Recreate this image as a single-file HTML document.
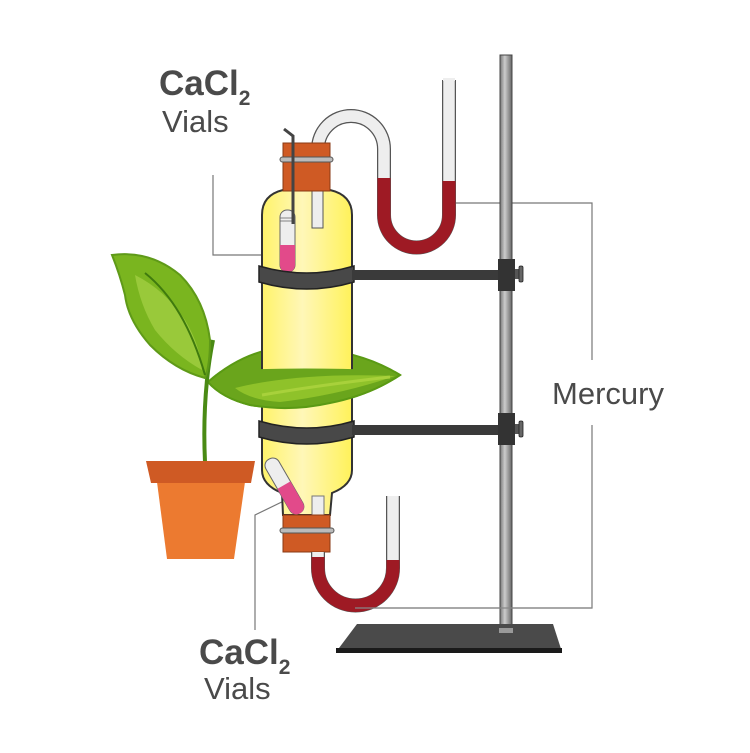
<!DOCTYPE html>
<html><head><meta charset="utf-8"><style>
html,body{margin:0;padding:0;background:#fff;}
svg{display:block;}
text{font-family:"Liberation Sans",Arial,sans-serif;fill:#4a4a4a;}
</style></head><body>
<svg width="750" height="753" viewBox="0 0 750 753" xmlns="http://www.w3.org/2000/svg">
<defs>
<linearGradient id="bot" x1="0" x2="1" y1="0" y2="0">
<stop offset="0" stop-color="#fff36a"/><stop offset="0.45" stop-color="#fff7b8"/><stop offset="1" stop-color="#fff25a"/>
</linearGradient>
<linearGradient id="rod" x1="0" x2="1"><stop offset="0" stop-color="#777"/><stop offset="0.4" stop-color="#ccc"/><stop offset="1" stop-color="#666"/></linearGradient>
<clipPath id="lowhalf"><path d="M200,372 Q300,365 420,372 L420,430 L200,430Z"/></clipPath>
</defs>

<g stroke="#777" stroke-width="1.2" fill="none">
<path d="M213,175 V255 H283"/>
<path d="M455,203 H592 V360"/>
<path d="M592,425 V608 H355"/>
<path d="M292,497 L255,515 V630"/>
</g>

<rect x="500" y="55" width="12" height="580" fill="url(#rod)" stroke="#444" stroke-width="1"/>
<path d="M357,624 L553,624 L562,652 L336,652Z" fill="#4a4a4a"/>
<rect x="336" y="648" width="226" height="5" fill="#1a1a1a"/>
<rect x="499" y="628" width="14" height="5" fill="#999"/>

<g fill="none" stroke-linecap="butt">
<path d="M318,165 V149 A33,33 0 0 1 384,149 V215 A32.5,32.5 0 0 0 449,215 V80" stroke="#555" stroke-width="14"/>
<path d="M318,165 V149 A33,33 0 0 1 384,149 V215 A32.5,32.5 0 0 0 449,215 V80" stroke="#eeeeee" stroke-width="11.5"/>
<path d="M384,178 V215 A32.5,32.5 0 0 0 449,215 V181" stroke="#9e1a24" stroke-width="13"/>
</g>
<rect x="443" y="78" width="12" height="3" fill="#eee"/>

<g>
<path d="M208,382 Q250,345 300,347 Q360,350 400,375 Q370,395 330,403 Q290,412 250,405 Q222,398 208,382Z" fill="#6aa51c" stroke="#5a9a14" stroke-width="2"/>
<path d="M230,385 Q300,368 395,376 Q340,395 280,400 Q245,398 230,385Z" fill="#8fc22a"/>
<path d="M220,384 Q300,368 395,375" stroke="#3f7a0e" stroke-width="2" fill="none"/>
</g>

<path d="M283,190 L330,190 Q352,195 352,215 V470 Q352,485 332,493 L330,515 H283 L282,493 Q262,485 262,470 V215 Q262,195 283,190Z" fill="url(#bot)" stroke="#333" stroke-width="2"/>
<rect x="312" y="190" width="11" height="38" fill="#eee" stroke="#555" stroke-width="1"/>
<rect x="312" y="496" width="12" height="20" fill="#eee" stroke="#777" stroke-width="1"/>

<g clip-path="url(#lowhalf)">
<path d="M208,382 Q250,345 300,347 Q360,350 400,375 Q370,395 330,403 Q290,412 250,405 Q222,398 208,382Z" fill="#6aa51c" stroke="#5a9a14" stroke-width="2"/>
<path d="M235,388 Q300,372 395,376 Q340,395 280,402 Q250,400 235,388Z" fill="#8fc22a"/>
<path d="M262,395 Q320,385 390,377" stroke="#a8d13b" stroke-width="3" fill="none"/>
</g>

<rect x="280" y="210" width="15" height="62" rx="7" fill="#eee" stroke="#666" stroke-width="1"/>
<path d="M280,245 H295 V265 A7.5,7.5 0 0 1 280,265Z" fill="#e24a8a"/>
<rect x="280" y="218" width="15" height="3" fill="none" stroke="#666" stroke-width="0.8"/>
<path d="M284,129 L293,136 V224" stroke="#444" stroke-width="3" fill="none"/>

<rect x="283" y="143" width="47" height="48" fill="#cf5a24" stroke="#8a3a14" stroke-width="1"/>
<rect x="280" y="157" width="53" height="5" rx="2.5" fill="#bbb" stroke="#555" stroke-width="1"/>
<path d="M293,136 V224" stroke="#444" stroke-width="3"/>

<g transform="rotate(-30 285 488)">
<rect x="278" y="455" width="15" height="62" rx="7" fill="#eee" stroke="#666" stroke-width="1"/>
<path d="M278,485 H293 V510 A7.5,7.5 0 0 1 278,510Z" fill="#e24a8a"/>
</g>

<rect x="283" y="515" width="47" height="37" fill="#cf5a24" stroke="#8a3a14" stroke-width="1"/>
<rect x="280" y="528" width="54" height="5" rx="2.5" fill="#bbb" stroke="#555" stroke-width="1"/>

<g fill="none">
<path d="M318,552 V568 A37.5,37.5 0 0 0 393,568 V496" stroke="#555" stroke-width="14"/>
<path d="M318,552 V568 A37.5,37.5 0 0 0 393,568 V496" stroke="#eee" stroke-width="11.5"/>
<path d="M318,557 V568 A37.5,37.5 0 0 0 393,568 V560" stroke="#9e1a24" stroke-width="13"/>
</g>
<path d="M355,608 H592" stroke="#888" stroke-width="1.2"/>

<g>
<path d="M259,266 Q307,280 354,266 V282 Q307,296 259,282Z" fill="#484848" stroke="#222" stroke-width="1.5"/>
<rect x="352" y="270" width="150" height="10" fill="#3a3a3a"/>
<rect x="498" y="259" width="17" height="32" fill="#333"/>
<rect x="515" y="269" width="4" height="10" fill="#555"/>
<rect x="519" y="266" width="4" height="16" rx="1.5" fill="#666" stroke="#222" stroke-width="0.8"/>

<path d="M259,421 Q307,435 354,421 V437 Q307,451 259,437Z" fill="#484848" stroke="#222" stroke-width="1.5"/>
<rect x="352" y="425" width="150" height="10" fill="#3a3a3a"/>
<rect x="498" y="413" width="17" height="32" fill="#333"/>
<rect x="515" y="424" width="4" height="10" fill="#555"/>
<rect x="519" y="421" width="4" height="16" rx="1.5" fill="#666" stroke="#222" stroke-width="0.8"/>
</g>

<path d="M205,462 Q203,420 207,380 Q209,360 213,340" stroke="#4a8a14" stroke-width="4" fill="none"/>
<path d="M112,255 Q150,250 180,275 Q205,300 210,340 Q210,365 205,378 Q175,370 150,345 Q128,320 125,295 Q120,275 112,255Z" fill="#7ab51f" stroke="#5f9a18" stroke-width="2"/>
<path d="M135,275 Q165,290 185,320 Q200,345 202,370 Q175,355 155,330 Q140,305 135,275Z" fill="#99c93a"/>
<path d="M145,273 Q185,305 205,375" stroke="#3f7a0e" stroke-width="2" fill="none"/>

<path d="M157,482 L245,482 L234,559 L167,559Z" fill="#ec7a30"/>
<path d="M146,461 L255,461 L251,483 L151,483Z" fill="#cf5a24"/>

<text x="159" y="95" font-size="35" font-weight="bold">CaCl<tspan font-size="21" dy="10">2</tspan></text>
<text x="162" y="132" font-size="31">Vials</text>
<text x="552" y="404" font-size="31">Mercury</text>
<text x="199" y="664" font-size="35" font-weight="bold">CaCl<tspan font-size="21" dy="10">2</tspan></text>
<text x="204" y="699" font-size="31">Vials</text>
</svg>
</body></html>
